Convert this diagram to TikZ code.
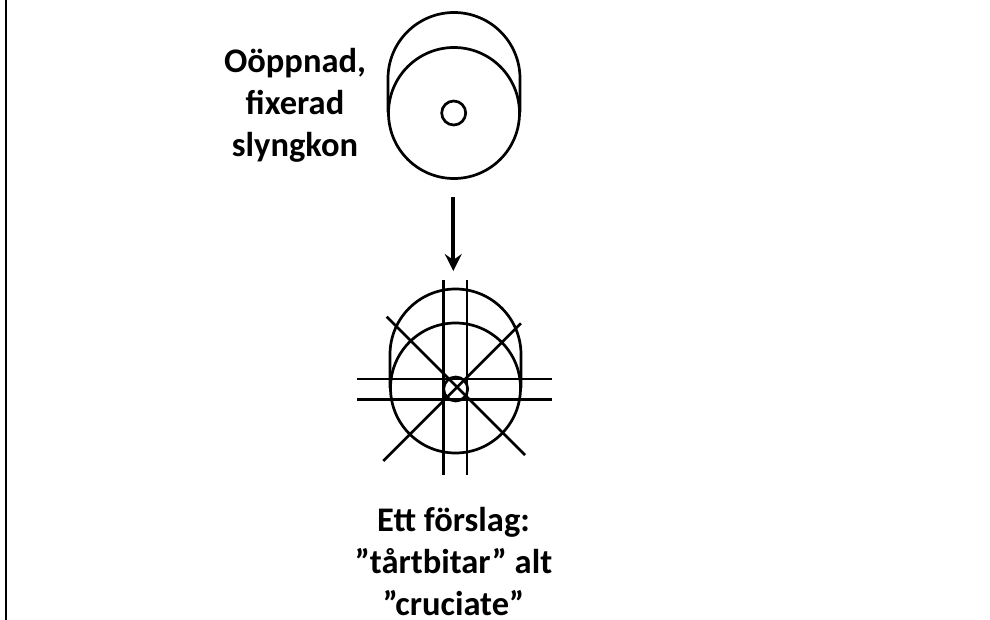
\documentclass[tikz,border=0pt]{standalone}
\usepackage{fontspec}
\setmainfont{Carlito}
\usetikzlibrary{arrows.meta}
\tikzset{
  x=1pt,y=-1pt,
  shapeline/.style={draw=black,line width=2.7pt},
  cutline/.style={draw=black,line width=2.6pt},
  lbl/.style={font=\fontsize{34.5}{42}\selectfont\bfseries,align=center,inner sep=0pt,text=black},
  flow/.style={draw=black,line width=4pt,-{Stealth[length=17pt,width=17pt,inset=6pt]}}
}
\begin{document}
\begin{tikzpicture}
\useasboundingbox (0,0) rectangle (990,620);
\draw[line width=2pt] (6,0) -- (6,620);
% top cone
\draw[shapeline] (388,112.5) -- (388,78.5) arc[start angle=180,end angle=360,x radius=66,y radius=66] -- (520,112.5);
\draw[shapeline] (454,113) circle[radius=65.5];
\draw[shapeline] (453.7,113) circle[radius=12];
\node[lbl] (top) at (295,105.5) {Oöppnad,\\fixerad\\slyngkon};
% arrow
\coordinate (arrowstart) at (453.3,197);
\coordinate (arrowend) at (453.3,271);
\draw[flow] (arrowstart) -- (arrowend);
% bottom cone
\draw[shapeline] (390,388) -- (390,354.5) arc[start angle=180,end angle=360,x radius=65.5,y radius=65.5] -- (521,388);
\draw[shapeline] (455.5,388) circle[radius=65];
\draw[shapeline] (455.7,389) circle[radius=12];
\draw[cutline] (443.7,280) -- (443.7,475);
\draw[cutline] (467,280) -- (467,475);
\draw[cutline] (357,379) -- (552,379);
\draw[cutline] (357,399.3) -- (552,399.3);
\draw[cutline] (386.7,316.7) -- (525,455);
\draw[cutline] (383.3,461) -- (521,323.3);
\node[lbl] (bottom) at (453.5,562) {Ett förslag:\\”tårtbitar” alt\\”cruciate”};
\end{tikzpicture}
\end{document}
